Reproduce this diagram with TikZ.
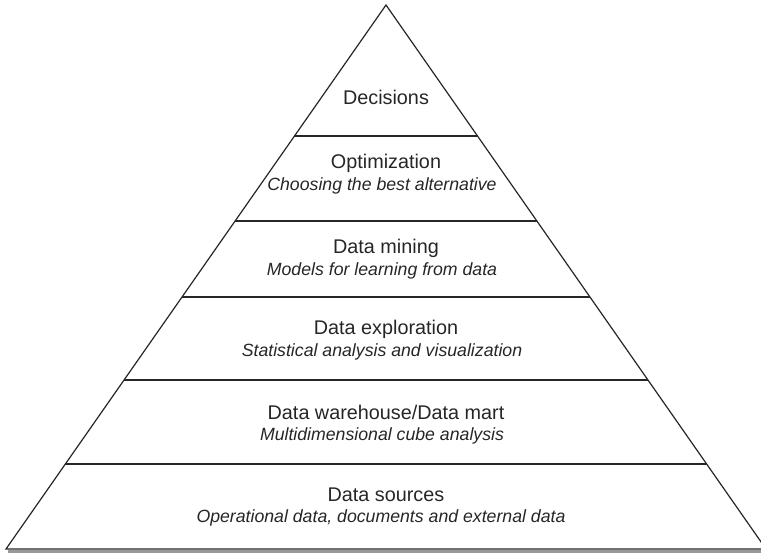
\documentclass[tikz,border=0pt]{standalone}
\usepackage{fontspec}
\setmainfont{Liberation Sans}
\begin{document}
\begin{tikzpicture}[x=1pt,y=-1pt,
  edge/.style={line width=1.2pt, draw=black!85},
  title/.style={font=\fontsize{19.8}{24}\selectfont, text=black!85},
  sub/.style={font=\fontsize{17.7}{21}\selectfont\itshape, text=black!85}]
\useasboundingbox (0,0) rectangle (761,554);
\coordinate (apex) at (386,5);
\coordinate (bl) at (6,549);
\coordinate (br) at (766,549);
\fill[black!40] (8,549.5) rectangle (761,553);
\draw[edge, line join=miter] (bl) -- (apex) -- (br) -- cycle;
\foreach \y in {136,221,297,380,464} {
  \pgfmathsetmacro{\dx}{0.6985*(\y-5)}
  \draw[edge] ({386-\dx},\y) -- ({386+\dx},\y);
}
\node[title] (dec) at (386,97) {Decisions};
\node[title] (opt) at (386,163) {Optimization};
\node[sub] (opts) at (382,186) {Choosing the best alternative};
\node[title] (dm) at (386,248) {Data mining};
\node[sub] (dms) at (382,271) {Models for learning from data};
\node[title] (de) at (386,329) {Data exploration};
\node[sub] (des) at (382,352) {Statistical analysis and visualization};
\node[title] (dw) at (386,412) {Data warehouse/Data mart};
\node[sub] (dws) at (382,436) {Multidimensional cube analysis};
\node[title] (ds) at (386,495) {Data sources};
\node[sub] (dss) at (381,518) {Operational data, documents and external data};
\end{tikzpicture}
\end{document}
